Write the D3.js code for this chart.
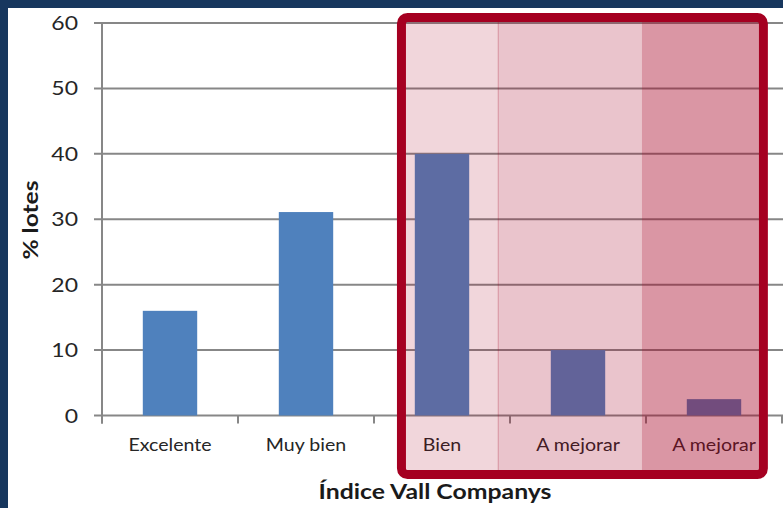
<!DOCTYPE html>
<html><head><meta charset="utf-8">
<script src="https://cdn.jsdelivr.net/npm/d3@7"></script>
<style>
html,body{margin:0;padding:0;background:#fff;}
svg{display:block;}
text{font-family:Lato,"Open Sans",sans-serif;}
</style></head>
<body>
<script>
const categories = ["Excelente","Muy bien","Bien","A mejorar","A mejorar "];
const values = [16, 31.1, 40, 10, 2.5];
const yTicks = [0,10,20,30,40,50,60];
const xTitle = "Índice Vall Companys";
const yTitle = "% lotes";
// highlight zones in category-index units
const zones = [
  {from:2.235, to:2.91, alpha:0.16},
  {from:2.91, to:3.97, alpha:0.23},
  {from:3.97, to:4.83, alpha:0.41}
];

(function(){
const W = 783, H = 508;
const svg = d3.select("body").append("svg").attr("width",W).attr("height",H);

svg.append("rect").attr("x",0).attr("y",0).attr("width",W).attr("height",8).attr("fill","#17375e");
svg.append("rect").attr("x",0).attr("y",0).attr("width",8).attr("height",H).attr("fill","#17375e");

const pL = 102, pR = 782, pT = 23, pB = 415.5;
const x = d3.scaleBand().domain(categories).range([pL,pR]).paddingInner(0.6).paddingOuter(0.3);
const xi = d3.scaleLinear().domain([0,5]).range([pL,pR]);
const y = d3.scaleLinear().domain([0,60]).range([pB,pT]);

const grid = "#878787";
svg.append("g").selectAll("line").data(yTicks).join("line")
  .attr("x1",pL-8).attr("x2",W).attr("y1",d=>y(d)).attr("y2",d=>y(d))
  .attr("stroke",grid).attr("stroke-width",2);

svg.append("g").selectAll("rect").data(values).join("rect")
  .attr("x",(d,i)=>x(categories[i])).attr("width",x.bandwidth())
  .attr("y",d=>y(d)).attr("height",d=>y(0)-y(d))
  .attr("fill","#4f81bd");

svg.append("line").attr("x1",pL).attr("x2",pL).attr("y1",pT-1).attr("y2",pB+8)
  .attr("stroke",grid).attr("stroke-width",2);
svg.append("g").selectAll("line").data(d3.range(0,6)).join("line")
  .attr("x1",d=>xi(d)).attr("x2",d=>xi(d)).attr("y1",pB).attr("y2",pB+8)
  .attr("stroke",grid).attr("stroke-width",2);

svg.append("g").selectAll("text").data(yTicks).join("text")
  .attr("transform",d=>`translate(78,${y(d)+7}) scale(1.15,1)`).attr("text-anchor","end")
  .attr("font-size",20).attr("fill","#262626").text(d=>d);

svg.append("g").selectAll("text").data(categories).join("text")
  .attr("transform",d=>`translate(${x(d)+x.bandwidth()/2},451) scale(1.12,1)`).attr("text-anchor","middle")
  .attr("font-size",17.5).attr("fill","#262626").text(d=>d.trim());

svg.append("text").attr("transform","translate(435,499) scale(1.24,1)").attr("text-anchor","middle")
  .attr("font-size",20).attr("font-weight","bold").attr("fill","#1a1a1a").text(xTitle);
svg.append("text").attr("transform","translate(38,220) rotate(-90) scale(1.2,1)").attr("text-anchor","middle")
  .attr("font-size",20.5).attr("font-weight","bold").attr("fill","#1a1a1a").text(yTitle);

const zTop = y(60)-1, zBot = y(0)+54.5;
svg.append("g").selectAll("rect").data(zones).join("rect")
  .attr("x",d=>xi(d.from)).attr("width",d=>xi(d.to)-xi(d.from))
  .attr("y",zTop).attr("height",zBot-zTop)
  .attr("fill","#a50021").attr("fill-opacity",d=>d.alpha);
svg.append("line").attr("x1",xi(zones[1].from)+0.5).attr("x2",xi(zones[1].from)+0.5)
  .attr("y1",zTop).attr("y2",zBot).attr("stroke","#a50021").attr("stroke-opacity",0.25).attr("stroke-width",1);

svg.append("rect").attr("x",xi(zones[0].from)-4.5).attr("y",zTop-4.5)
  .attr("width",xi(zones[2].to)-xi(zones[0].from)+9).attr("height",zBot-zTop+9)
  .attr("rx",6).attr("fill","none").attr("stroke","#a50021").attr("stroke-width",9);
})();
</script>
</body></html>
